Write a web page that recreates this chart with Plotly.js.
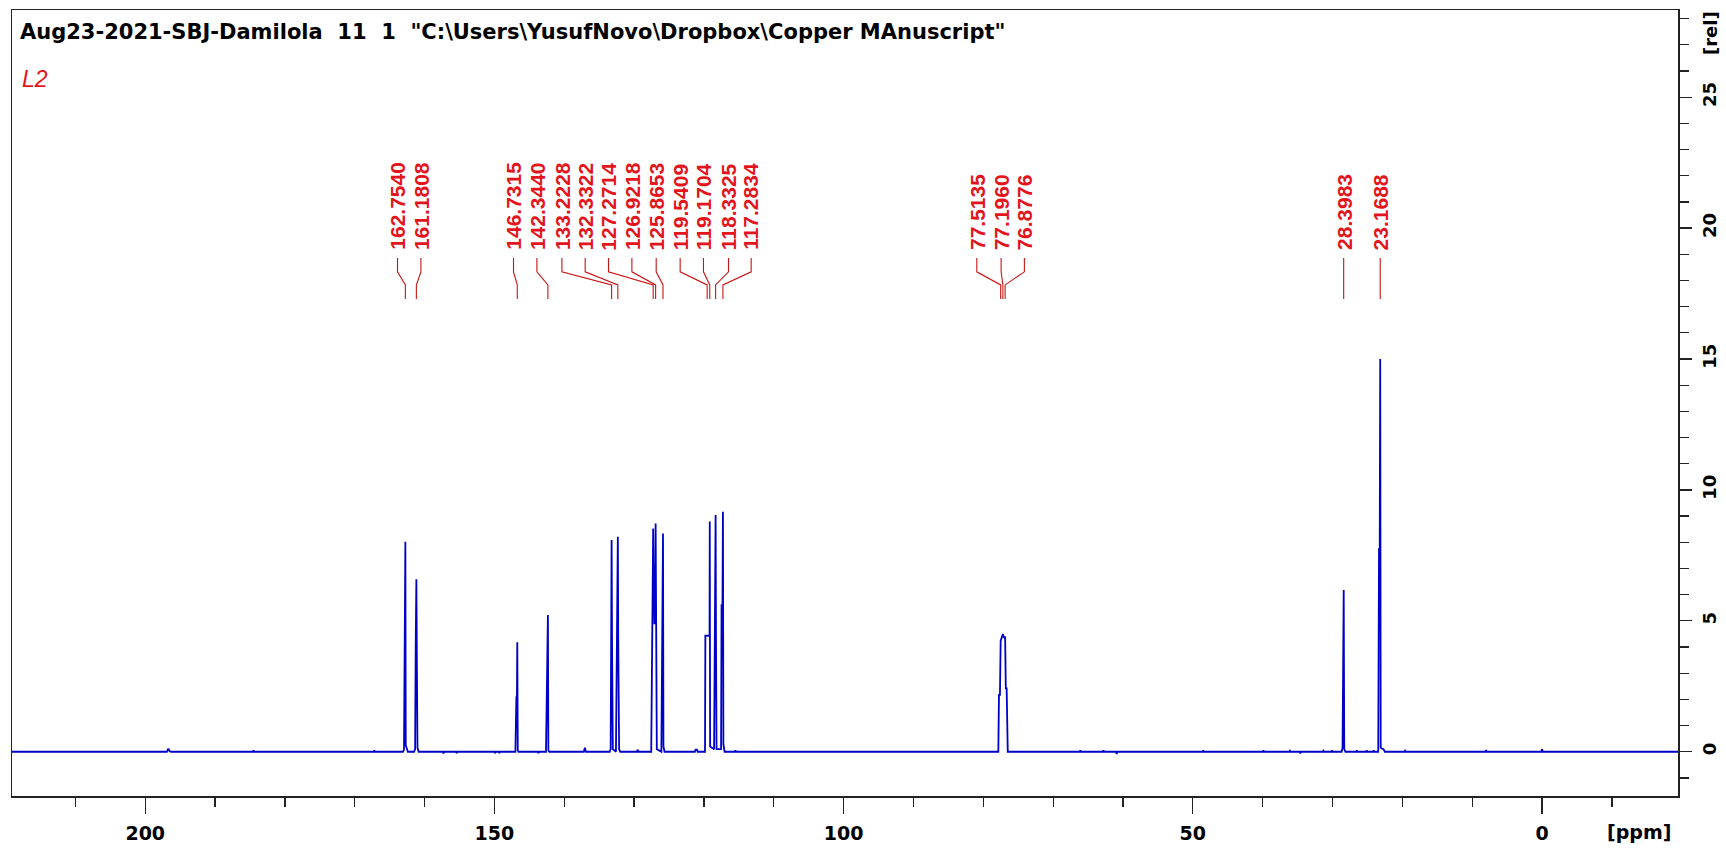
<!DOCTYPE html>
<html>
<head>
<meta charset="utf-8">
<script src="https://cdn.plot.ly/plotly-3.0.1.min.js"></script>
<style>
  html, body { margin: 0; padding: 0; background: #ffffff; }
  #chart { width: 1726px; height: 851px; }
</style>
</head>
<body>
<div id="chart"></div>
<script>
// ---- Data (ppm, relative intensity) ----
const specPpm = [
  219.1, 196.9, 196.7, 196.5, 196.3, 184.6, 184.5, 184.4, 167.3, 167.2, 167.1,
  163.10, 162.95, 162.88, 162.80, 162.754, 162.70, 162.55, 162.40,
  161.50, 161.36, 161.28, 161.18, 161.12, 161.02, 160.85,
  157.4, 157.3, 157.2, 155.5, 155.4, 155.3, 150.0, 149.9, 149.8, 149.4, 149.3, 149.2,
  147.00, 146.86, 146.78, 146.73, 146.66, 146.55,
  143.8, 143.7, 143.6,
  142.62, 142.48, 142.40, 142.344, 142.28, 142.15,
  137.2, 137.05, 136.9,
  133.50, 133.36, 133.28, 133.223, 133.16, 133.05,
  132.60, 132.46, 132.38, 132.332, 132.27, 132.15, 132.0,
  129.6, 129.5, 129.4,
  127.55, 127.40, 127.30, 127.271, 127.10, 126.96, 126.922, 126.86, 126.75,
  126.10, 125.96, 125.90, 125.865, 125.80, 125.65,
  121.3, 121.2, 121.0, 120.9,
  119.85, 119.80, 119.60, 119.541, 119.35, 119.20, 119.170, 119.12,
  118.55, 118.48, 118.38, 118.333, 118.28, 118.20,
  117.55, 117.48, 117.35, 117.283, 117.22, 117.05,
  115.6, 115.5, 115.4,
  77.85, 77.76, 77.62, 77.514, 77.42, 77.30, 77.196, 77.10, 76.98, 76.878, 76.78, 76.66, 76.58, 76.50,
  66.2, 66.1, 66.0, 62.9, 62.8, 62.7, 61.0, 60.9, 60.8,
  48.6, 48.5, 48.4, 40.0, 39.9, 39.8, 36.2, 36.1, 36.0, 34.7, 34.6, 34.5,
  31.4, 31.3, 31.2, 30.2, 30.1, 30.0,
  28.70, 28.56, 28.48, 28.42, 28.398, 28.32, 28.15,
  26.6, 26.5, 26.4, 25.2, 25.1, 25.0, 24.2, 24.1, 24.0,
  23.45, 23.34, 23.24, 23.169, 23.10, 22.9, 22.7, 22.5,
  19.7, 19.6, 19.5, 8.1, 8.0, 7.9, 0.1, 0.0, -0.1, -19.5
];
const specInt = [
  0, 0, 0.12, 0.02, 0, 0, 0.05, 0, 0, 0.05, 0,
  0, 0.08, 3.99, 3.99, 8.02, 0.25, 0.08, 0,
  0, 0.1, 3.85, 6.59, 3.85, 0.15, 0,
  0, -0.06, 0, 0, -0.05, 0, 0, -0.05, 0, 0, -0.05, 0,
  0, 2.09, 2.09, 4.18, 0.05, 0,
  0, -0.05, 0,
  0, 2.55, 2.55, 5.22, 0.05, 0,
  0, 0.15, 0,
  0, 0.1, 4.05, 8.09, 4.05, 0.1,
  0, 4.11, 4.11, 8.21, 4.11, 0.1, 0,
  0, 0.08, 0,
  0, 4.9, 4.9, 8.53, 4.9, 4.9, 8.72, 4.9, 0.1,
  0, 4.37, 4.37, 8.34, 0.2, 0,
  0, 0.08, 0.08, 0,
  0, 4.43, 4.43, 4.43, 4.43, 4.43, 8.79, 0.2,
  0.1, 4.62, 4.62, 9.04, 4.62, 0.1,
  0.1, 5.6, 5.6, 9.17, 0.3, 0,
  0, 0.05, 0,
  0, 2.17, 2.17, 4.24, 4.3, 4.45, 4.5, 4.4, 4.35, 4.4, 2.42, 2.42, 0.05, 0,
  0, 0.05, 0, 0, 0.05, 0, 0, -0.08, 0,
  0, 0.05, 0, 0, 0.05, 0, 0, 0.04, 0, 0, -0.06, 0,
  0, 0.04, 0, 0, 0.05, 0,
  0, 0.15, 3.19, 3.19, 6.18, 0.1, 0,
  0, 0.05, 0, 0, 0.05, 0, 0, 0.05, 0,
  0, 7.74, 7.74, 15.0, 0.15, 0.12, 0.1, 0,
  0, 0.04, 0, 0, 0.06, 0, 0, 0.1, 0, 0
];

// Picked peaks (ppm) and the label text
const peakPpm = [162.7540, 161.1808, 146.7315, 142.3440, 133.2228, 132.3322, 127.2714,
                 126.9218, 125.8653, 119.5409, 119.1704, 118.3325, 117.2834,
                 77.5135, 77.1960, 76.8776, 28.3983, 23.1688];
const peakText = ["162.7540", "161.1808", "146.7315", "142.3440", "133.2228", "132.3322", "127.2714",
                  "126.9218", "125.8653", "119.5409", "119.1704", "118.3325", "117.2834",
                  "77.5135", "77.1960", "76.8776", "28.3983", "23.1688"];

// Layout: where each label sits on the ppm axis (labels are spread apart)
const labelPos = [163.88, 160.53, 147.27, 143.92, 140.34, 137.01, 133.67,
                  130.32, 126.84, 123.41, 120.07, 116.49, 113.24,
                  80.93, 77.45, 74.12, 28.3983, 23.1688];

const xTickVals = [200, 150, 100, 50, 0];
const yTickVals = [0, 5, 10, 15, 20, 25];

const titleText = 'Aug23-2021-SBJ-Damilola\u00a0\u00a011\u00a0\u00a01\u00a0\u00a0"C:\\Users\\YusufNovo\\Dropbox\\Copper MAnuscript"';
const sampleText = 'L2';

// ---- Figure ----
const RED = '#e3141c';
const LEADER = '#c81414';
const labelY = 19.08, leadA = 18.86, leadB = 18.33, leadC = 17.83, leadD = 17.29;

const annotations = [];
const shapes = [];
for (let i = 0; i < peakPpm.length; i++) {
  annotations.push({
    x: labelPos[i], y: labelY, xref: 'x', yref: 'y',
    text: peakText[i], showarrow: false, textangle: -90,
    xanchor: 'center', yanchor: 'bottom',
    font: {family: 'Liberation Sans, Arial, sans-serif', size: 21, color: RED, weight: 'bold'}
  });
  const lx = labelPos[i], px = peakPpm[i];
  shapes.push({
    type: 'path', xref: 'x', yref: 'y',
    path: `M ${lx},${leadA} L ${lx},${leadB} L ${px},${leadC} L ${px},${leadD}`,
    line: {color: LEADER, width: 1.1}
  });
}
annotations.push({
  xref: 'paper', yref: 'paper', x: 0.0036, y: 0.972, xanchor: 'left', yanchor: 'middle',
  text: titleText, showarrow: false,
  font: {family: 'DejaVu Sans, sans-serif', size: 21, color: '#000000', weight: 'bold'}
});
annotations.push({
  xref: 'paper', yref: 'paper', x: 0.0048, y: 0.912, xanchor: 'left', yanchor: 'middle',
  text: '<i>' + sampleText + '</i>', showarrow: false,
  font: {family: 'Liberation Sans, Arial, sans-serif', size: 23, color: RED}
});
annotations.push({
  xref: 'paper', yref: 'paper', x: 0.9766, y: -0.0458, xanchor: 'center', yanchor: 'middle',
  text: '[ppm]', showarrow: false,
  font: {family: 'DejaVu Sans, sans-serif', size: 19, color: '#000000', weight: 'bold'}
});
annotations.push({
  xref: 'paper', yref: 'paper', x: 1.0192, y: 0.9707, xanchor: 'center', yanchor: 'middle',
  text: '[rel]', showarrow: false, textangle: -90,
  font: {family: 'DejaVu Sans, sans-serif', size: 18, color: '#000000', weight: 'bold'}
});

const trace = {
  x: specPpm, y: specInt, type: 'scatter', mode: 'lines',
  line: {color: '#0000c8', width: 1.8}, hoverinfo: 'skip', showlegend: false
};

const layout = {
  width: 1726, height: 851,
  margin: {l: 12, r: 48, t: 10, b: 55, pad: 0},
  paper_bgcolor: '#ffffff', plot_bgcolor: '#ffffff',
  showlegend: false,
  xaxis: {
    range: [219.08, -19.47], showgrid: false, zeroline: false,
    showline: true, mirror: true, linecolor: '#222222', linewidth: 1.5,
    tickmode: 'array', tickvals: xTickVals, ticktext: xTickVals.map(String),
    ticks: 'outside', ticklen: 16, tickwidth: 1.3, tickcolor: '#222222',
    ticklabelstandoff: 4,
    tickfont: {family: 'DejaVu Sans, sans-serif', size: 19, color: '#000000', weight: 'bold'},
    minor: {dtick: 10, tick0: 0, ticks: 'outside', ticklen: 9, tickwidth: 1.3, tickcolor: '#222222', showgrid: false}
  },
  yaxis: {
    range: [-1.69, 28.33], side: 'right', showgrid: false, zeroline: false,
    showline: true, mirror: true, linecolor: '#222222', linewidth: 1.5,
    tickmode: 'array', tickvals: yTickVals, ticktext: yTickVals.map(String),
    ticks: 'outside', ticklen: 12, tickwidth: 1.3, tickcolor: '#222222',
    tickangle: -90, ticklabelstandoff: 3,
    tickfont: {family: 'DejaVu Sans, sans-serif', size: 18, color: '#000000', weight: 'bold'},
    minor: {dtick: 1, tick0: 0, ticks: 'outside', ticklen: 9, tickwidth: 1.3, tickcolor: '#222222', showgrid: false}
  },
  annotations: annotations,
  shapes: shapes
};

Plotly.newPlot('chart', [trace], layout, {displayModeBar: false, staticPlot: true});
</script>
</body>
</html>
